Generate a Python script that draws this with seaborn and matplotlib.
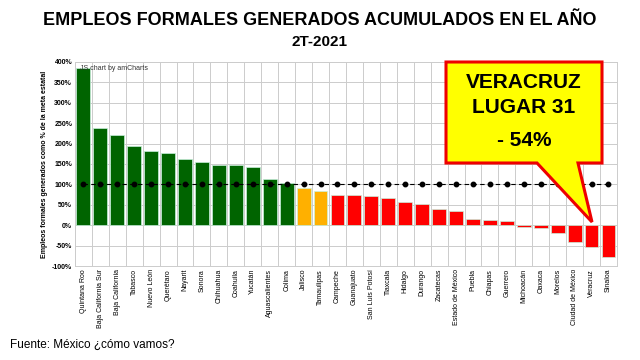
import pandas as pd
import matplotlib.pyplot as plt
import seaborn as sns
from matplotlib.patches import Polygon

# data
estados = [
    'Quintana Roo', 'Baja California Sur', 'Baja California', 'Tabasco', 'Nuevo León',
    'Querétaro', 'Nayarit', 'Sonora', 'Chihuahua', 'Coahuila', 'Yucatán',
    'Aguascalientes', 'Colima', 'Jalisco', 'Tamaulipas', 'Campeche', 'Guanajuato',
    'San Luis Potosí', 'Tlaxcala', 'Hidalgo', 'Durango', 'Zacatecas', 'Estado de México',
    'Puebla', 'Chiapas', 'Guerrero', 'Michoacán', 'Oaxaca', 'Morelos',
    'Ciudad de México', 'Veracruz', 'Sinaloa'
]
porcentaje = [385, 238, 220, 193, 182, 177, 162, 154, 148, 148, 142, 112, 103,
              90, 84, 75, 73, 72, 67, 57, 53, 39, 35, 15, 14, 11, -5, -8, -18,
              -41, -54, -77]
meta = [100] * len(estados)
grupo = ['verde'] * 13 + ['naranja'] * 2 + ['rojo'] * 17
colores = {'verde': '#006400', 'naranja': '#FFB000', 'rojo': '#FF0000'}
y_ticks = [-100, -50, 0, 50, 100, 150, 200, 250, 300, 350, 400]

df = pd.DataFrame({'estado': estados, 'pct': porcentaje, 'meta': meta, 'grupo': grupo})

sns.set_style("white")
plt.rcParams['font.family'] = ['Liberation Sans', 'DejaVu Sans']
plt.rcParams['text.color'] = 'black'
plt.rcParams['axes.labelcolor'] = 'black'
plt.rcParams['xtick.color'] = 'black'
plt.rcParams['ytick.color'] = 'black'

fig = plt.figure(figsize=(6.4, 3.6), dpi=100)
ax = fig.add_axes([0.117, 0.261, 0.847, 0.567])

sns.barplot(data=df, x='estado', y='pct', hue='grupo', palette=colores,
            dodge=False, width=0.82, edgecolor='#c8f0dc', linewidth=0.5,
            saturation=1, legend=False, ax=ax)

# 100% goal line with dots
ax.plot(range(len(estados)), df['meta'], color='black', linestyle=(0, (4, 3)),
        linewidth=0.8, marker='o', markersize=3.2, zorder=3)

ax.set_ylim(-100, 400)
ax.set_xlim(-0.5, len(estados) - 0.5)
ax.set_yticks(y_ticks)
ax.set_yticklabels([f'{v}%' for v in y_ticks], fontsize=5, fontweight='bold')
ax.set_xticks(range(len(estados)))
ax.set_xticklabels(estados, rotation=90, fontsize=5)
ax.set_xticks([i - 0.5 for i in range(len(estados) + 1)], minor=True)
ax.grid(axis='x', which='minor', color='#cccccc', linewidth=0.7)
ax.grid(axis='y', which='major', color='#cccccc', linewidth=0.7)
ax.set_axisbelow(True)
ax.tick_params(axis='both', which='both', length=0, pad=2)
ax.set_xlabel('')
ax.set_ylabel('Empleos formales generados como % de la meta estatal',
              fontsize=5, fontweight='bold', labelpad=3)
for s in ax.spines.values():
    s.set_color('#cccccc')
    s.set_linewidth(0.7)

ax.text(0.01, 0.985, 'JS chart by amCharts', transform=ax.transAxes,
        fontsize=5, va='top', ha='left', color='#333333')

# titles
fig.text(0.5, 0.944, 'EMPLEOS FORMALES GENERADOS ACUMULADOS EN EL AÑO',
         ha='center', va='center', fontsize=13, fontweight='bold')
fig.text(0.5, 0.883, '2T-2021', ha='center', va='center', fontsize=11, fontweight='bold')
fig.text(0.016, 0.042, 'Fuente: México ¿cómo vamos?', ha='left', va='center', fontsize=8.5)

# callout box for Veracruz
pts = [(446, 62), (602, 62), (602, 163), (578, 163), (592, 222), (537, 163), (446, 163)]
callout = Polygon([(x / 640, 1 - y / 360) for x, y in pts], closed=True,
                  facecolor='#FFFF00', edgecolor='#EE0000', linewidth=2.2,
                  transform=fig.transFigure, zorder=10)
fig.patches.append(callout)
fig.text(524 / 640, 1 - 82 / 360, 'VERACRUZ', ha='center', va='center',
         fontsize=15, fontweight='bold', zorder=11)
fig.text(524 / 640, 1 - 107 / 360, 'LUGAR 31', ha='center', va='center',
         fontsize=15, fontweight='bold', zorder=11)
fig.text(524 / 640, 1 - 141 / 360, '- 54%', ha='center', va='center',
         fontsize=15, fontweight='bold', zorder=11)

plt.savefig('out.png', dpi=100)
